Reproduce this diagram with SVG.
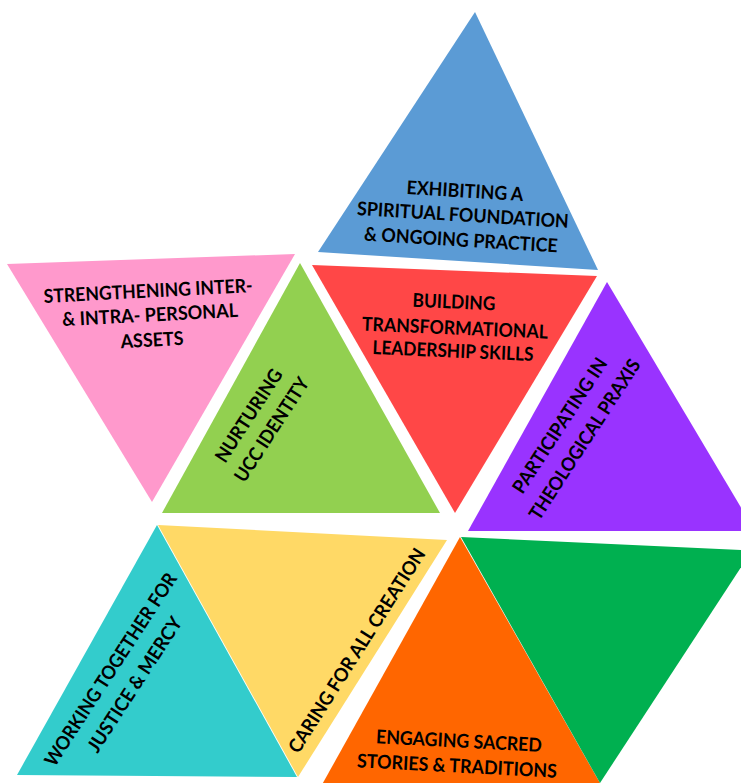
<svg xmlns="http://www.w3.org/2000/svg" width="741" height="783" viewBox="0 0 741 783">
<style>
.lbl{font-family:Lato,"Open Sans","Liberation Sans",sans-serif;font-weight:bold;font-size:19px;fill:#000;text-anchor:middle;dominant-baseline:central}
</style>
<rect width="741" height="783" fill="#fff"/>
<g id="spiritual">
<polygon points="475,12 318,252 598,270" fill="#5B9BD5"/>
<text class="lbl" x="465" y="190" transform="rotate(3.5 465 190)" textLength="117" lengthAdjust="spacingAndGlyphs">EXHIBITING A</text>
<text class="lbl" x="463" y="214" transform="rotate(3.5 463 214)" textLength="212" lengthAdjust="spacingAndGlyphs">SPIRITUAL FOUNDATION</text>
<text class="lbl" x="461" y="239" transform="rotate(3.5 461 239)" textLength="194" lengthAdjust="spacingAndGlyphs">&amp; ONGOING PRACTICE</text>
</g>
<g id="personal">
<polygon points="7,264 295,254 152,502" fill="#FF99CC"/>
<text class="lbl" x="148" y="290" transform="rotate(-3 148 290)" textLength="209" lengthAdjust="spacingAndGlyphs">STRENGTHENING INTER-</text>
<text class="lbl" x="150" y="314" transform="rotate(-3 150 314)" textLength="176" lengthAdjust="spacingAndGlyphs">&amp; INTRA- PERSONAL</text>
<text class="lbl" x="152" y="339" transform="rotate(-3 152 339)" textLength="63" lengthAdjust="spacingAndGlyphs">ASSETS</text>
</g>
<g id="identity">
<polygon points="300,263 162,513 440,513" fill="#92D050"/>
<text class="lbl" x="248" y="415" transform="rotate(-57 248 415)" textLength="107" lengthAdjust="spacingAndGlyphs">NURTURING</text>
<text class="lbl" x="271" y="429" transform="rotate(-57 271 429)" textLength="120" lengthAdjust="spacingAndGlyphs">UCC IDENTITY</text>
</g>
<g id="leadership">
<polygon points="312,265 597,276 455,513" fill="#FF4747"/>
<text class="lbl" x="454" y="301" transform="rotate(2.5 454 301)" textLength="83" lengthAdjust="spacingAndGlyphs">BUILDING</text>
<text class="lbl" x="455" y="327" transform="rotate(2.5 455 327)" textLength="186" lengthAdjust="spacingAndGlyphs">TRANSFORMATIONAL</text>
<text class="lbl" x="453" y="350" transform="rotate(2.5 453 350)" textLength="161" lengthAdjust="spacingAndGlyphs">LEADERSHIP SKILLS</text>
</g>
<g id="praxis">
<polygon points="607,282 468,531 755,531" fill="#9933FF"/>
<text class="lbl" x="559" y="425" transform="rotate(-57 559 425)" textLength="157" lengthAdjust="spacingAndGlyphs">PARTICIPATING IN</text>
<text class="lbl" x="584" y="439" transform="rotate(-57 584 439)" textLength="187" lengthAdjust="spacingAndGlyphs">THEOLOGICAL PRAXIS</text>
</g>
<g id="justice">
<polygon points="157,525 17,775 297,777" fill="#33CCCC"/>
<text class="lbl" x="110" y="669" transform="rotate(-57 110 669)" textLength="226" lengthAdjust="spacingAndGlyphs">WORKING TOGETHER FOR</text>
<text class="lbl" x="134" y="684" transform="rotate(-57 134 684)" textLength="157" lengthAdjust="spacingAndGlyphs">JUSTICE &amp; MERCY</text>
</g>
<g id="creation">
<polygon points="158,525 447,540 298,777" fill="#FFD966"/>
<text class="lbl" x="356" y="650" transform="rotate(-57.5 356 650)" textLength="238" lengthAdjust="spacingAndGlyphs">CARING FOR ALL CREATION</text>
</g>
<g id="stories">
<polygon points="460,537 319,790 604,790" fill="#FF6600"/>
<text class="lbl" x="459" y="740" transform="rotate(3 459 740)" textLength="166" lengthAdjust="spacingAndGlyphs">ENGAGING SACRED</text>
<text class="lbl" x="457" y="765" transform="rotate(3 457 765)" textLength="200" lengthAdjust="spacingAndGlyphs">STORIES &amp; TRADITIONS</text>
</g>
<g id="blank-green">
<polygon points="461,537 752,550.5 600,783" fill="#00B050"/>
</g>
<g id="connectors"></g>
</svg>
